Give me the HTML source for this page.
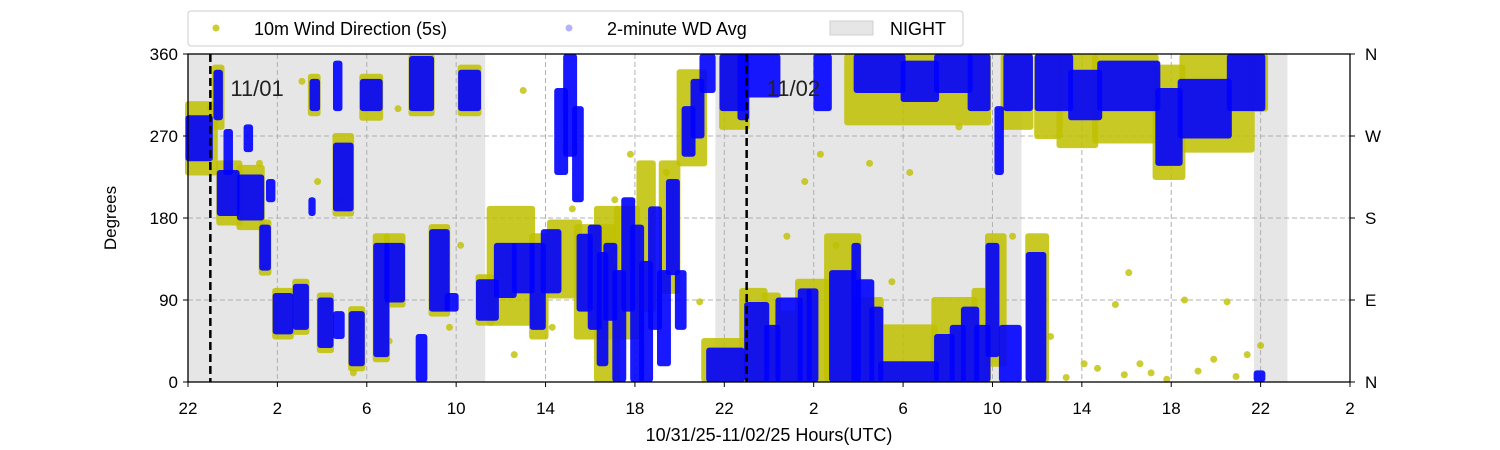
<!DOCTYPE html>
<html><head><meta charset="utf-8"><style>
html,body{margin:0;padding:0;background:#fff;}
svg{display:block;font-family:"Liberation Sans","DejaVu Sans",sans-serif;}
</style></head><body>
<svg id="chart" width="1500" height="450" viewBox="0 0 1500 450" xmlns="http://www.w3.org/2000/svg">
<g id="night"></g>
<g id="grid"></g>
<g id="yellow"></g>
<g id="blue"></g>
<g id="marks"></g>
<rect x="188" y="54" width="1162" height="328" fill="none" stroke="#000" stroke-width="1.3"/>
<g id="axes"></g>
<text x="116" y="218" font-size="17" text-anchor="middle" transform="rotate(-90 116 218)">Degrees</text>
<text x="769" y="441" font-size="18" text-anchor="middle">10/31/25-11/02/25  Hours(UTC)</text>
<g>
<rect x="188" y="11" width="775" height="35" rx="3" fill="#fff" stroke="#ccc"/>
<circle cx="216" cy="28" r="3.5" fill="#bfbf00" opacity="0.8"/>
<text x="254" y="35" font-size="18">10m Wind Direction (5s)</text>
<circle cx="569" cy="28" r="3.5" fill="#0000ff" opacity="0.3"/>
<text x="607" y="35" font-size="18">2-minute WD Avg</text>
<rect x="830" y="21" width="43" height="14" fill="#e6e6e6" stroke="#d0d0d0"/>
<text x="890" y="35" font-size="18">NIGHT</text>
</g>
</svg>
<script>
// hours since 22 UTC on 10/31
const xTickHours = [0,4,8,12,16,20,24,28,32,36,40,44,48,52];
const xTickLabels = ["22","2","6","10","14","18","22","2","6","10","14","18","22","2"];
const yTicks = [0,90,180,270,360];
const yRightLabels = ["N","E","S","W","N"];
const nightStart = [0,23.6,47.7];
const nightEnd = [13.3,37.3,49.2];
const dayMarkT = [1,25];
const dayMarkLabels = ["11/01","11/02"];
// blue (2-minute average) blocks
const blueT0 = [0,1.25,1.4,1.7,2.3,2.6,3.3,3.6,3.9,4.8,5.5,5.55,5.9,6.6,6.6,6.6,7.3,7.8,8.4,8.9,10.0,10.3,10.9,11.6,12.2,13.0,13.8,14.6,15.4,15.9,16.5,16.9,17.3,17.5,18.0,18.4,18.7,19.1,19.5,19.9,20.3,20.7,21.1,21.5,21.9,22.2,22.6,
  23.0,23.3,23.9,24.7,25.0,25.0,25.9,26.4,27.4,27.8,28.1,28.8,29.8,30.0,30.6,31.0,33.5,34.2,34.7,35.3,29.9,32.0,33.5,35.0,35.8,36.2,36.4,36.6,37.6,38.0,39.5,40.8,43.4,44.4,46.6,47.8];
const blueT1 = [1.0,1.45,2.2,1.9,3.3,2.8,3.6,3.8,4.6,5.3,5.6,5.8,6.4,6.9,7.3,6.8,7.8,8.6,8.9,9.6,10.9,10.6,11.6,12.0,13.0,13.8,14.6,15.4,15.9,16.6,16.9,17.3,17.6,18.0,18.4,18.7,19.1,19.5,19.9,20.3,20.7,21.1,21.5,21.9,22.2,22.6,23.0,
  23.5,24.8,24.9,25.0,26.4,25.9,26.4,27.4,27.8,28.1,28.7,29.8,30.0,30.6,31.0,33.5,34.2,34.7,35.3,35.8,32.0,33.5,35.0,35.8,36.2,36.4,37.2,37.7,38.3,39.5,40.8,43.4,44.4,46.6,48.1,48.1];
const blueLo = [245,290,185,230,180,255,125,200,55,60,185,300,40,50,190,300,20,300,30,90,300,0,80,80,300,70,95,100,60,100,230,250,200,80,60,20,70,0,80,0,0,60,20,120,60,250,270,
  320,0,300,290,315,0,0,0,0,0,300,0,0,0,0,0,0,0,0,0,320,310,320,300,30,230,0,300,0,300,290,300,240,270,300,0];
const blueHi = [290,340,230,275,225,280,170,220,95,105,200,330,90,75,260,350,75,330,150,150,355,50,165,95,340,110,150,150,150,165,320,360,300,160,170,140,150,120,200,170,130,190,120,220,120,300,330,
  360,35,360,360,360,85,60,90,100,100,360,120,150,110,80,20,50,60,80,60,360,350,360,360,150,300,60,360,140,360,340,350,320,330,360,10];
// yellow (5s raw) blocks
const yelT0 = [0,1.2,1.4,2.3,3.3,3.9,4.8,5.5,5.9,6.6,7.3,7.8,8.4,8.9,10.0,10.9,12.2,13.0,13.5,15.4,16.2,17.4,18.3,19.2,20.2,21.2,22.0,23.1,23.9,24.8,25.8,26.4,27.3,28.6,30.0,31.0,33.4,35.2,29.5,35.8,36.5,37.6,38.0,39.0,40.6,43.3,44.5,47.6];
const yelT1 = [1.2,1.5,2.3,3.3,3.6,4.6,5.3,5.8,6.4,7.3,7.8,8.6,8.9,9.6,10.9,11.6,13.0,13.6,15.4,16.0,17.5,19.0,19.2,20.1,20.8,21.9,23.1,24.9,25.0,25.8,26.4,27.3,28.6,30.0,31.0,33.4,35.2,35.8,35.8,36.5,37.7,38.4,39.0,40.6,43.3,44.5,47.6,48.2];
const yelLo = [230,280,175,170,120,50,55,295,35,185,15,290,25,85,295,75,295,65,65,50,95,50,0,50,80,100,240,0,280,0,0,0,0,0,0,0,0,0,285,20,280,0,270,260,265,225,255,300];
const yelHi = [305,345,240,235,175,100,110,335,95,270,80,335,160,160,360,170,345,115,190,160,175,170,190,190,240,240,340,45,360,100,95,75,110,160,90,60,90,100,360,160,360,160,360,360,360,345,360,360];
// isolated yellow points
const ptT = [1.0,3.2,5.1,5.8,6.9,7.4,9.0,9.4,11.7,12.2,14.6,15.0,16.3,17.2,19.1,19.8,21.4,22.9,26.8,27.6,28.3,29.0,30.5,31.5,32.3,34.5,36.9,38.6,40.1,41.5,42.1,43.1,44.6,46.5,47.4,48.0,39.3,40.7,41.9,42.6,43.8,45.2,45.9,46.9];
const ptD = [300,240,330,220,200,10,45,300,60,150,30,320,60,190,200,250,230,88,160,220,250,150,240,110,230,280,160,50,20,85,120,10,90,88,30,40,5,15,8,20,3,12,25,6];

const X0=188,X1=1350,Y0=382,Y1=54,TMAX=52;
const xs = t => X0 + t*(X1-X0)/TMAX;
const ys = d => Y0 - d*(Y0-Y1)/360;
const NS="http://www.w3.org/2000/svg";
function mk(tag, parent, attrs){const e=document.createElementNS(NS,tag);for(const k in attrs)e.setAttribute(k,attrs[k]);parent.appendChild(e);return e;}

const night=document.getElementById('night');
for(let i=0;i<nightStart.length;i++){
  const r=mk('rect',night,{x:xs(nightStart[i]),y:Y1,width:xs(nightEnd[i])-xs(nightStart[i]),height:Y0-Y1,fill:'#e6e6e6'});
  
  
}
const grid=document.getElementById('grid');
xTickHours.forEach(h=>{ if(h>0&&h<TMAX){
  const l=mk('line',grid,{x1:xs(h),x2:xs(h),y1:Y1,y2:Y0,stroke:'#b0b0b0','stroke-dasharray':'5,3','stroke-width':1});
  
  
}});
yTicks.forEach(d=>{ if(d>0&&d<360){
  const l=mk('line',grid,{x1:X0,x2:X1,y1:ys(d),y2:ys(d),stroke:'#b0b0b0','stroke-dasharray':'5,3','stroke-width':1});
  
  
}});
const yel=document.getElementById('yellow');
for(let i=0;i<yelT0.length;i++){
  const r=mk('rect',yel,{x:xs(yelT0[i])-3,y:Math.max(Y1,ys(yelHi[i])-3),width:xs(yelT1[i])-xs(yelT0[i])+6,height:Math.min(Y0,ys(yelLo[i])+3)-Math.max(Y1,ys(yelHi[i])-3),rx:3,fill:'#bfbf00',opacity:0.85});
  
  
}
for(let i=0;i<ptT.length;i++){
  const c=mk('circle',yel,{cx:xs(ptT[i]),cy:ys(ptD[i]),r:3.5,fill:'#bfbf00',opacity:0.8});
  
  
}
const blue=document.getElementById('blue');
for(let i=0;i<blueT0.length;i++){
  const r=mk('rect',blue,{x:xs(blueT0[i])-2.5,y:Math.max(Y1,ys(blueHi[i])-2.5),width:xs(blueT1[i])-xs(blueT0[i])+5,height:Math.min(Y0,ys(blueLo[i])+2.5)-Math.max(Y1,ys(blueHi[i])-2.5),rx:3,fill:'#0000ff',opacity:0.9});
  
  
}
const marks=document.getElementById('marks');
for(let i=0;i<dayMarkT.length;i++){
  const l=mk('line',marks,{x1:xs(dayMarkT[i]),x2:xs(dayMarkT[i]),y1:Y1,y2:Y0,stroke:'#000','stroke-width':2.5,'stroke-dasharray':'8,4'});
  
  
  const t=mk('text',marks,{x:xs(dayMarkT[i])+20,y:96,'font-size':22,fill:'#222'});
  t.textContent=dayMarkLabels[i];
  
  
}
const axes=document.getElementById('axes');
xTickHours.forEach((h,i)=>{
  const l=mk('line',axes,{x1:xs(h),x2:xs(h),y1:Y0,y2:Y0+5,stroke:'#000'});
  
  
  const t=mk('text',axes,{x:xs(h),y:414,'font-size':17,'text-anchor':'middle'});
  t.textContent=xTickLabels[i];
  
  
});
yTicks.forEach((d,i)=>{
  const l=mk('line',axes,{x1:X0-5,x2:X0,y1:ys(d),y2:ys(d),stroke:'#000'});
  
  
  const t=mk('text',axes,{x:X0-10,y:ys(d)+6,'font-size':17,'text-anchor':'end'});
  t.textContent=String(d);
  
  
  const l2=mk('line',axes,{x1:X1,x2:X1+5,y1:ys(d),y2:ys(d),stroke:'#000'});
  
  
  const t2=mk('text',axes,{x:X1+15,y:ys(d)+6,'font-size':17});
  t2.textContent=yRightLabels[i];
  
  
});
</script>
</body></html>
